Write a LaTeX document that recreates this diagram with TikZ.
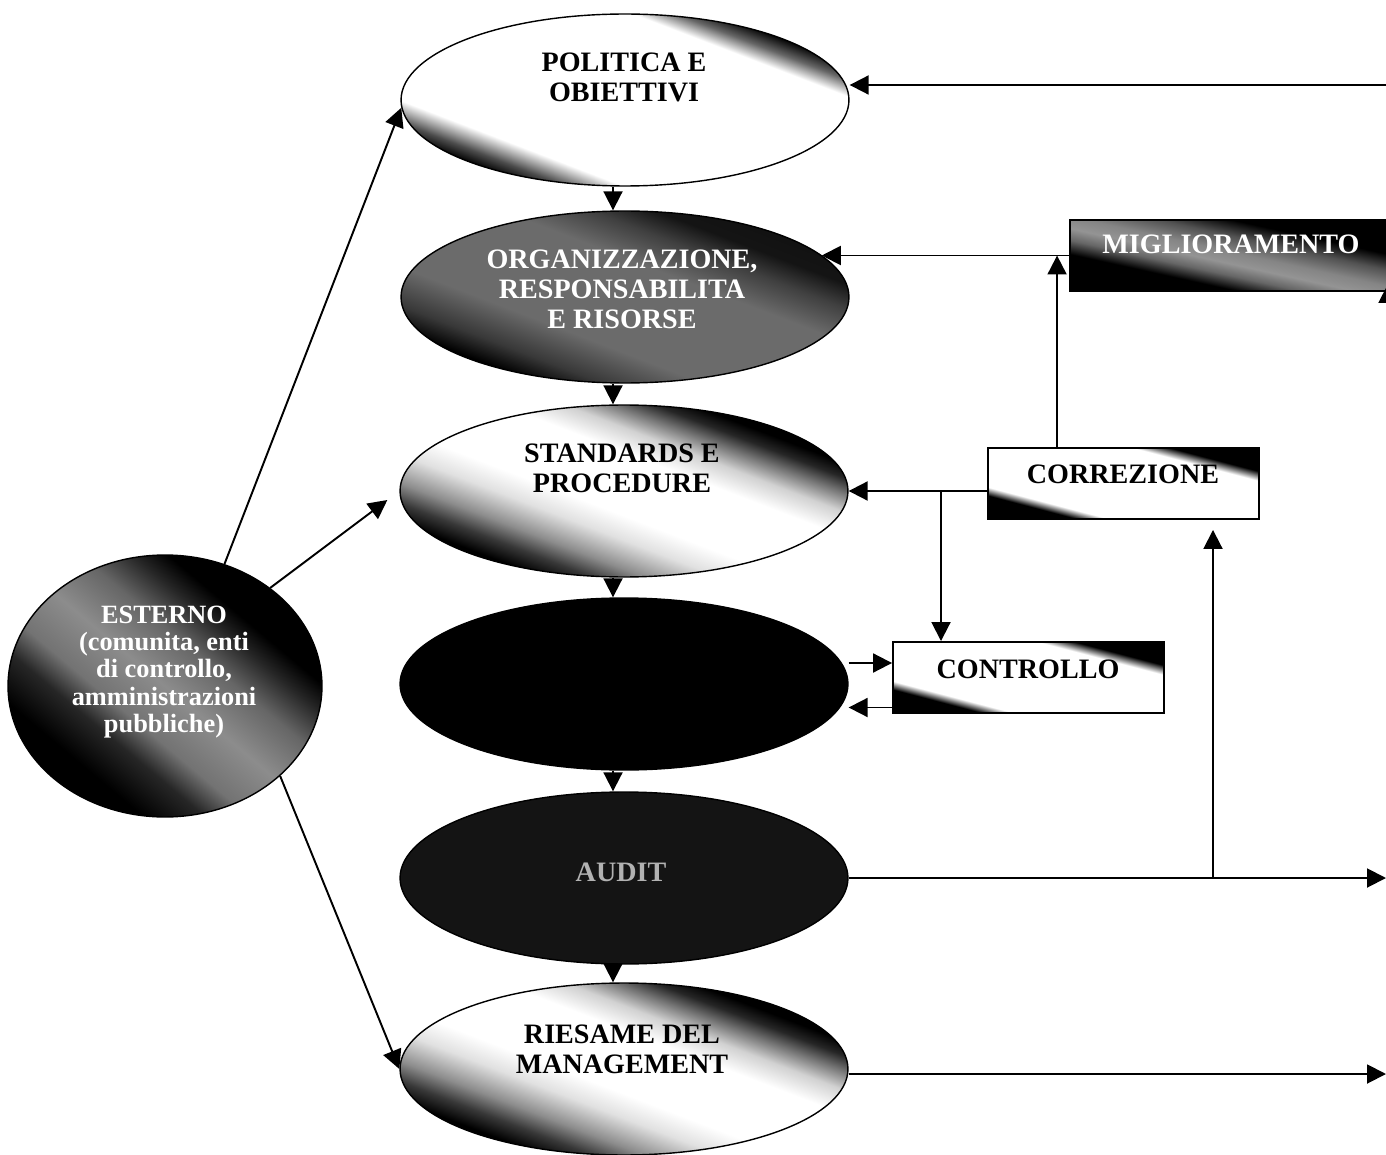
\documentclass[tikz,border=0pt]{standalone}
\usepackage{fontspec}
\setmainfont{Liberation Serif}
\usetikzlibrary{shapes.geometric,arrows.meta,calc}

% band shadings: bottom of band = 25bp, top of band = 75bp
\pgfdeclareverticalshading{lightell}{100bp}{color(0bp)=(black); color(28bp)=(black); color(30.5bp)=(black!70); color(34.5bp)=(white); color(66bp)=(white); color(69bp)=(black!60); color(72bp)=(black); color(100bp)=(black)}
\pgfdeclareverticalshading{midell}{100bp}{color(0bp)=(black); color(28.9bp)=(black); color(32.4bp)=(black!78); color(36bp)=(black!45); color(41.2bp)=(black!12); color(45.6bp)=(white); color(57bp)=(white); color(61.4bp)=(black!18); color(64.9bp)=(black!55); color(67.6bp)=(black!85); color(70.2bp)=(black); color(100bp)=(black)}
\pgfdeclareverticalshading{darkell}{100bp}{color(0bp)=(black); color(28.5bp)=(black); color(33bp)=(black!78); color(40bp)=(black!58); color(57bp)=(black!58); color(63.2bp)=(black!75); color(67.6bp)=(black!92); color(100bp)=(black)}
\pgfdeclareverticalshading{extell}{100bp}{color(0bp)=(black); color(32.2bp)=(black); color(38.4bp)=(black!85); color(42.9bp)=(black!55); color(50bp)=(black!45); color(57.1bp)=(black!60); color(62.4bp)=(black!85); color(66bp)=(black); color(100bp)=(black)}
\pgfdeclareverticalshading{boxcorner}{100bp}{color(0bp)=(black); color(35.6bp)=(black); color(38.2bp)=(white); color(61.5bp)=(white); color(64.5bp)=(black); color(100bp)=(black)}
\pgfdeclareverticalshading{migbox}{100bp}{color(0bp)=(black); color(39.6bp)=(black); color(43.9bp)=(black!60); color(47.5bp)=(black!42); color(51.2bp)=(black!48); color(56.1bp)=(black!68); color(61bp)=(black); color(100bp)=(black)}

\begin{document}
\begin{tikzpicture}[x=0.02cm, y=-0.02cm,
  gshade/.style n args={4}{fill=white, path picture={%
     \begin{scope}[transform canvas={rotate around={#2:(path picture bounding box.center)}}]
       \shade[shading=#1] ($(path picture bounding box.center)+(-#4,-#3)$) rectangle ($(path picture bounding box.center)+(#4,#3)$);
     \end{scope}}},
  ell/.style={ellipse, draw, line width=0.8pt, minimum width=8.96cm, minimum height=3.44cm, inner sep=0pt},
  lbl/.style={font=\fontsize{16pt}{17pt}\selectfont\bfseries, align=center, inner sep=0pt},
  boxs/.style={rectangle, draw, line width=1.1pt, minimum width=5.42cm, minimum height=1.42cm, inner sep=0pt},
  arr/.style={-{Triangle[length=0.38cm,width=0.38cm]}, line width=1.1pt},
]
\useasboundingbox (0,0) rectangle (1386,1155);
\fill[white] (0,0) rectangle (1386,1155);
\clip (0,0) rectangle (1386,1155);

% main column of ellipses
\node[ell, gshade={lightell}{-21}{130}{300}] (e1) at (625,100) {};
\node[ell, gshade={darkell}{-21}{130}{300}] (e2) at (625,297) {};
\node[ell, gshade={midell}{-21}{130}{300}] (e3) at (624,491) {};
\node[ell, fill=black] (e4) at (624,684) {};
\node[ell, fill=black!92] (e5) at (624,878) {};
\node[ell, gshade={midell}{-21}{130}{300}] (e6) at (624,1069) {};

% external ellipse
\node[ellipse, draw, line width=0.8pt, minimum width=6.28cm, minimum height=5.24cm, inner sep=0pt,
      gshade={extell}{-40}{160}{250}] (ext) at (165,686) {};

% boxes
\node[boxs, minimum width=6.44cm, gshade={migbox}{-12.4}{80}{200}] (mig) at (1231,255.5) {};
\node[boxs, gshade={boxcorner}{-14.7}{80}{170}] (corr) at (1123.5,483.5) {};
\node[boxs, gshade={boxcorner}{-14.7}{80}{170}] (ctrl) at (1028.5,677.5) {};

% labels
\node[lbl] (e1t) at (624,77) {POLITICA E\\OBIETTIVI};
\node[lbl, text=white] (e2t) at (622,289) {ORGANIZZAZIONE,\\RESPONSABILITA\\E RISORSE};
\node[lbl] (e3t) at (622,468) {STANDARDS E\\PROCEDURE};
\node[lbl, text=white!70!black] (e5t) at (621,872) {AUDIT};
\node[lbl] (e6t) at (622,1049) {RIESAME DEL\\MANAGEMENT};
\node[lbl, font=\fontsize{15pt}{15.5pt}\selectfont\bfseries, text=white] (extt) at (164,672)
  {ESTERNO\\(comunita, enti\\di controllo,\\amministrazioni\\pubbliche)};
\node[lbl, text=white] (migt) at (1231,244) {MIGLIORAMENTO};
\node[lbl] (corrt) at (1123,474) {CORREZIONE};
\node[lbl] (ctrlt) at (1028,669) {CONTROLLO};

% vertical chain
\draw[arr] ($(e1.south)+(-12,0)$) -- ($(e2.north)+(-12,0)$);
\draw[arr] ($(e2.south)+(-12,0)$) -- ($(e3.north)+(-11,0)$);
\draw[arr] ($(e3.south)+(-11,0)$) -- ($(e4.north)+(-11,0)$);
\draw[arr] ($(e4.south)+(-11,0)$) -- ($(e5.north)+(-11,0)$);
\draw[arr] ($(e5.south)+(-11,0)$) -- ($(e6.north)+(-11,0)$);

% from external
\draw[arr] (ext.64) -- (e1.182);
\draw[arr, shorten >=0.3cm] (ext.43) -- (e3.west);
\draw[arr] (ext.-38) -- (e6.west);

% right side
\coordinate (rtop) at (1400,85);
\draw[arr] (rtop) -- (rtop -| e1.east);

\draw[arr] (mig.west) -- (mig.west -| e2.12);
\coordinate (jm) at ($(mig.west)+(-12,0)$);
\draw[arr] (jm |- corr.north) -- (jm);

\draw[arr] (corr.west |- e3.east) -- (e3.east);
\coordinate (jc) at (941,491);
\draw[arr] (jc) -- (jc |- ctrl.north);

\coordinate (cu) at ($(ctrl.west)+(0,-14.5)$);
\coordinate (cl) at ($(ctrl.west)+(0,30)$);
\draw[arr] (cu -| e4.east) -- (cu);
\draw[arr] (cl) -- (cl -| e4.east);

\coordinate (ra) at (1386,878);
\draw[arr] (e5.east) -- (ra);
\coordinate (ja) at (1213,878);
\draw[arr, shorten >=0.2cm] (ja) -- (ja |- corr.south);

\coordinate (rr) at (1386,1074);
\draw[arr] (rr -| e6.east) -- (rr);

\coordinate (rm) at (1388,345);
\coordinate (rmt) at ($(rm |- mig.south)+(0,-8)$);
\draw[arr] (rm) -- (rmt);
\end{tikzpicture}
\end{document}
